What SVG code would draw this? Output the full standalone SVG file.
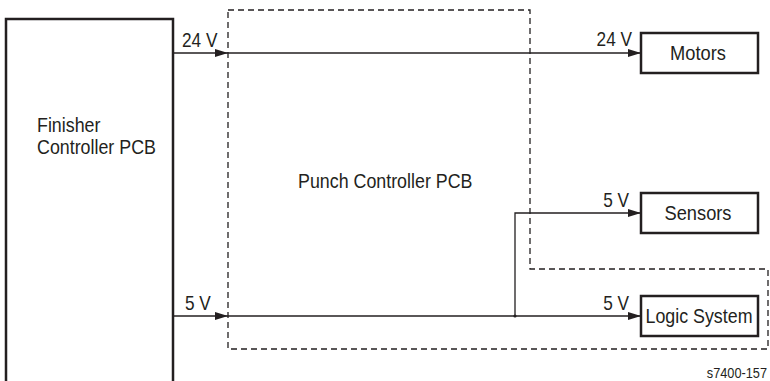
<svg xmlns="http://www.w3.org/2000/svg" width="770" height="381" viewBox="0 0 770 381">
<style>
text{font-family:"Liberation Sans",Arial,sans-serif;fill:#231f20}
.lbl{font-size:21px}
.v{font-size:21px}
.box{fill:#fff;stroke:#231f20;stroke-width:2.5}
.wire{fill:none;stroke:#231f20;stroke-width:1.3}
.dash{fill:none;stroke:#231f20;stroke-width:1.3;stroke-dasharray:6 4}
</style>
<defs>
<marker id="ah" viewBox="0 0 13 8" refX="13" refY="4" markerWidth="13" markerHeight="8" markerUnits="userSpaceOnUse" orient="auto">
<path d="M0,0 L13,4 L0,8 Z" fill="#231f20"/>
</marker>
</defs>
<rect width="770" height="381" fill="#fff"/>
<g id="punch-controller">
<path class="dash" d="M228,10 H530 V269 H768 V349 H228 Z"/>
<text class="lbl" transform="translate(298,188) scale(0.85,1)">Punch Controller PCB</text>
</g>
<g id="connectors">
<path class="wire" d="M173,53 H228" marker-end="url(#ah)"/>
<path class="wire" d="M228,53 H641" marker-end="url(#ah)"/>
<path class="wire" d="M173,316 H228" marker-end="url(#ah)"/>
<path class="wire" d="M228,316 H641" marker-end="url(#ah)"/>
<path class="wire" d="M515,316 V213 H641" marker-end="url(#ah)"/>
<circle cx="515" cy="316" r="1.6" fill="#231f20"/>
<text class="v" transform="translate(182,47) scale(0.82,1)">24 V</text>
<text class="v" transform="translate(185,310) scale(0.82,1)">5 V</text>
<text class="v" text-anchor="end" transform="translate(632,46) scale(0.82,1)">24 V</text>
<text class="v" text-anchor="end" transform="translate(629,207) scale(0.82,1)">5 V</text>
<text class="v" text-anchor="end" transform="translate(629,310) scale(0.82,1)">5 V</text>
</g>
<g id="finisher-controller">
<rect class="box" x="6" y="19" width="167" height="380"/>
<text class="lbl" transform="translate(37,132) scale(0.85,1)">Finisher</text>
<text class="lbl" transform="translate(37,154) scale(0.85,1)">Controller PCB</text>
</g>
<g id="motors">
<rect class="box" x="641" y="33" width="117" height="40"/>
<text class="lbl" text-anchor="middle" transform="translate(698,60) scale(0.87,1)">Motors</text>
</g>
<g id="sensors">
<rect class="box" x="641" y="193" width="117" height="40"/>
<text class="lbl" text-anchor="middle" transform="translate(698,220) scale(0.87,1)">Sensors</text>
</g>
<g id="logic-system">
<rect class="box" x="641" y="296" width="117" height="40"/>
<text class="lbl" text-anchor="middle" transform="translate(699,323) scale(0.85,1)">Logic System</text>
</g>
<text text-anchor="end" style="font-size:15px" transform="translate(767,378) scale(0.85,1)">s7400-157</text>
</svg>
